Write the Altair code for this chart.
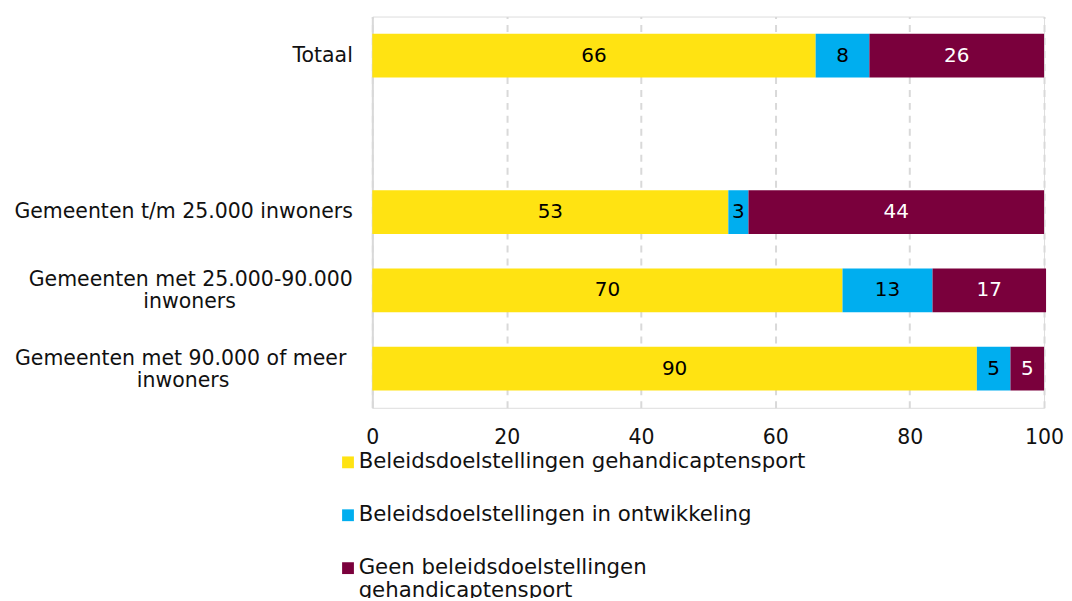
import altair as alt
import pandas as pd

categories = [
    "Totaal",
    "",
    "Gemeenten t/m 25.000 inwoners",
    "Gemeenten met 25.000-90.000 inwoners",
    "Gemeenten met 90.000 of meer inwoners",
]
bar_categories = [categories[0], categories[2], categories[3], categories[4]]
series = [
    "Beleidsdoelstellingen gehandicaptensport",
    "Beleidsdoelstellingen in ontwikkeling",
    "Geen beleidsdoelstellingen gehandicaptensport",
]
colors = ["#FFE312", "#00AEEF", "#7A003C"]
text_colors = ["#000000", "#000000", "#FFFFFF"]

val_gehandicaptensport = [66, 53, 70, 90]
val_ontwikkeling = [8, 3, 13.4, 5]
val_geen = [26, 44, 16.9, 5]

NB = "\u00a0"
ZW = "\u200b"
y_label_lines = {
    "Gemeenten met 25.000-90.000 inwoners": ["Gemeenten met 25.000-90.000", "inwoners" + NB * 18 + ZW],
    "Gemeenten met 90.000 of meer inwoners": ["Gemeenten met 90.000 of meer" + NB + ZW, "inwoners" + NB * 19 + ZW],
}
legend_label_lines = {
    series[2]: ["Geen beleidsdoelstellingen", "gehandicaptensport"],
}

rows = []
for s_i, (s, vals) in enumerate(zip(series, [val_gehandicaptensport, val_ontwikkeling, val_geen])):
    for c, v in zip(bar_categories, vals):
        rows.append({"cat": c, "series": s, "value": v, "order": s_i, "label": f"{v:.0f}"})
df = pd.DataFrame(rows)


def js_list(lines):
    return "[" + ",".join("'" + l + "'" for l in lines) + "]"


y_expr = ""
for k, lines in y_label_lines.items():
    y_expr += f"datum.label == '{k}' ? {js_list(lines)} : "
y_expr += "datum.label"

multi_test = " || ".join(f"datum.value == '{k}'" for k in y_label_lines)

leg_expr = ""
for k, lines in legend_label_lines.items():
    leg_expr += f"datum.label == '{k}' ? {js_list(lines)} : "
leg_expr += "datum.label"

FONT = "DejaVu Sans"
AX_SIZE = 20.5

y_scale = alt.Scale(domain=categories, paddingInner=0.44, paddingOuter=0.22)

y_enc = alt.Y(
    "cat:N",
    scale=y_scale,
    axis=alt.Axis(
        title=None,
        ticks=False,
        labelExpr=y_expr,
        labelFont=FONT,
        labelFontSize=AX_SIZE,
        labelColor="#111111",
        labelPadding=20,
        labelLimit=500,
        labelLineHeight=22,
        labelBaseline={"condition": {"test": multi_test, "value": "bottom"}, "value": "middle"},
        domainColor="#d9d9d9",
        domainWidth=2,
        grid=False,
    ),
)

base = alt.Chart(df).transform_stack(
    stack="value", groupby=["cat"], as_=["x0", "x1"], sort=[alt.SortField("order")]
).transform_calculate(mid="(datum.x0 + datum.x1) / 2")

bars = base.mark_bar().encode(
    x=alt.X(
        "x0:Q",
        scale=alt.Scale(domain=[0, 100], nice=False),
        axis=alt.Axis(
            title=None,
            values=[0, 20, 40, 60, 80, 100],
            grid=True,
            gridDash=[7, 6],
            gridColor="#d9d9d9",
            gridWidth=2,
            domain=False,
            ticks=False,
            labelFont=FONT,
            labelFontSize=AX_SIZE,
            labelColor="#111111",
            labelPadding=20,
            labelFlush=False,
        ),
    ),
    x2="x1:Q",
    y=y_enc,
    color=alt.Color(
        "series:N",
        scale=alt.Scale(domain=series, range=colors),
        legend=alt.Legend(
            title=None,
            orient="none",
            legendX=-35,
            legendY=436,
            direction="vertical",
            symbolType="square",
            symbolSize=140,
            symbolStrokeWidth=0,
            labelFont=FONT,
            labelFontSize=21.3,
            labelColor="#111111",
            labelLimit=700,
            labelOffset=0,
            rowPadding=31,
            labelExpr=leg_expr,
        ),
    ),
    order=alt.Order("order:Q"),
)

texts = base.mark_text(font=FONT, fontSize=20, baseline="middle", align="center").encode(
    x="mid:Q",
    y=alt.Y("cat:N", scale=y_scale),
    text="label:N",
    color=alt.Color("series:N", scale=alt.Scale(domain=series, range=text_colors), legend=None),
)

chart = (
    alt.layer(bars, texts)
    .resolve_scale(color="independent")
    .properties(
        width=673,
        height=392,
        autosize=alt.AutoSizeParams(type="none"),
        padding={"left": 365, "top": 8, "right": 20, "bottom": 190},
    )
    .configure_view(stroke=None)
    .configure(background="white")
)

chart.save("out.html", embed_options={"renderer": "svg", "actions": False})
